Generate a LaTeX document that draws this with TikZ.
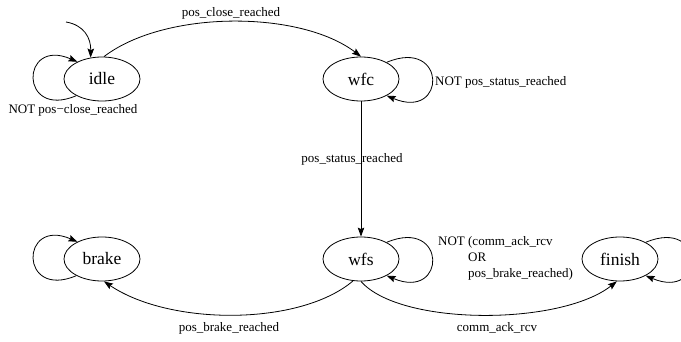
\documentclass[tikz,border=0pt]{standalone}
\usepackage{fontspec}
\setmainfont{Liberation Serif}
\usepackage{tikz}
\usetikzlibrary{arrows.meta,positioning,shapes.geometric}

\begin{document}
\begin{tikzpicture}[
  x=1pt, y=-1pt,
  every node/.style={font=\fontsize{13}{16}\selectfont},
  statebox/.style={draw, ellipse, line width=0.8pt, minimum width=76pt, minimum height=44pt, inner sep=0pt, font=\fontsize{17.5}{20}\selectfont},
  arr/.style={-{Stealth[length=9pt, width=6.5pt, inset=1.5pt]}, line width=0.8pt},
  lbl/.style={inner sep=0pt, align=left}
]
  \useasboundingbox (0,0) rectangle (681,342);

  \node[statebox] (idle)   at (102,79)  {idle};
  \node[statebox] (wfc)    at (361,79)  {wfc};
  \node[statebox] (brake)  at (102,259) {brake};
  \node[statebox] (wfs)    at (361,259) {wfs};
  \node[statebox] (finish) at (620,259) {finish};

  % start arrow
  \coordinate (init) at (66,22);
  \draw[arr] (init) .. controls (84,25) and (91,38) .. (idle.118);

  % self loops
  \draw[arr] (idle.213) .. controls (19,120) and (20,37) .. (idle.145);
  \draw[arr] (brake.213) .. controls (19,300) and (20,217) .. (brake.145);
  \draw[arr] (wfc.33) .. controls (447,37) and (447,121) .. (wfc.-33);
  \draw[arr] (wfs.33) .. controls (447,217) and (447,301) .. (wfs.-33);
  \draw[arr] (finish.33) .. controls (706,217) and (706,301) .. (finish.-33);

  % transitions
  \draw[arr] (idle.85) .. controls (165,10) and (300,10) .. (wfc.90);
  \draw[arr] (wfc) -- (wfs);
  \draw[arr] (wfs.250) .. controls (300,326) and (170,326) .. (brake.275);
  \draw[arr] (wfs.270) .. controls (400,326) and (560,326) .. (finish.262);

  % labels
  \node[lbl] (lclose)  at (73,110)  {NOT pos−close\_reached};
  \node[lbl] (lreach)  at (231,13)  {pos\_close\_reached};
  \node[lbl, anchor=west] (lstatus) at (435,82) {NOT pos\_status\_reached};
  \node[lbl] (lpos)    at (352,159) {pos\_status\_reached};
  \node[lbl, anchor=north west] (lnot) at (438,236) {NOT (comm\_ack\_rcv\\\hspace*{30pt}OR\\\hspace*{30pt}pos\_brake\_reached)};
  \node[lbl] (lbrake)  at (229,328) {pos\_brake\_reached};
  \node[lbl] (lack)    at (497,328) {comm\_ack\_rcv};
\end{tikzpicture}
\end{document}
